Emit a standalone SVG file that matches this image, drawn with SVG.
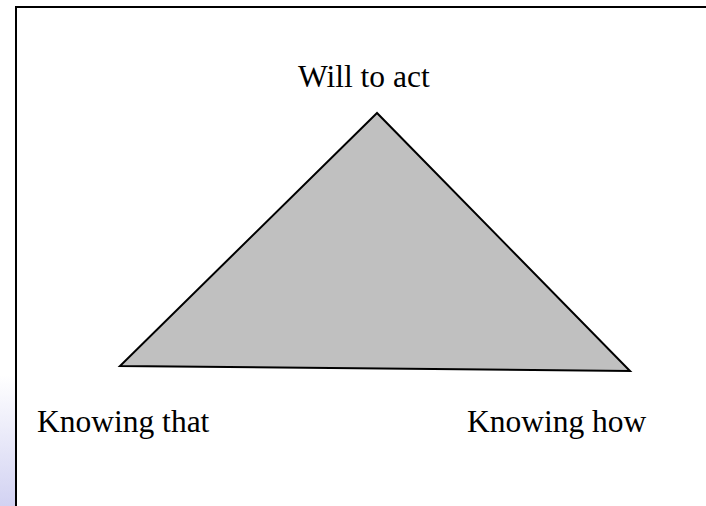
<svg xmlns="http://www.w3.org/2000/svg" width="706" height="506" viewBox="0 0 706 506">
<defs>
<linearGradient id="bg" x1="0" y1="0" x2="0" y2="1">
<stop offset="0" stop-color="#ffffff"/>
<stop offset="1" stop-color="#d2d2f2"/>
</linearGradient>
<style>
.lbl{font-family:"Liberation Serif","Times New Roman",serif;font-size:31.5px;fill:#000}
</style>
</defs>
<rect width="706" height="506" fill="#fff"/>
<rect x="0" y="375" width="16" height="131" fill="url(#bg)"/>
<rect x="16" y="7" width="700" height="510" fill="#fff" stroke="#000" stroke-width="2"/>
<g id="triangle">
<polygon points="377,113 120,366 630,371" fill="#c0c0c0" stroke="#000" stroke-width="2"/>
</g>
<g id="will"><text class="lbl" x="298" y="87">Will to act</text></g>
<g id="that"><text class="lbl" x="37" y="432">Knowing that</text></g>
<g id="how"><text class="lbl" x="467" y="432">Knowing how</text></g>
</svg>
